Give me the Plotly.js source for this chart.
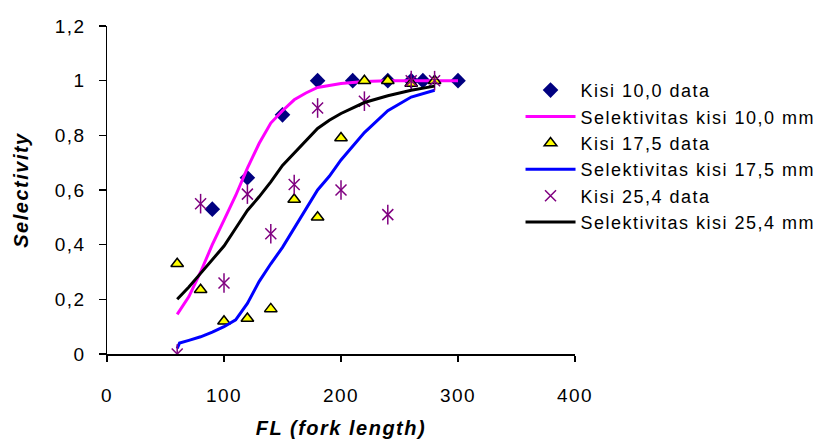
<!DOCTYPE html>
<html>
<head>
<meta charset="utf-8">
<script src="https://cdn.plot.ly/plotly-3.0.1.min.js"></script>
<style>
html,body{margin:0;padding:0;background:#fff;}
#chart{width:820px;height:439px;}
#chart text{letter-spacing:1.5px;}
#chart .legend .scrollbox{clip-path:none !important;}
</style>
</head>
<body>
<div id="chart"></div>
<script>
// Data
const x10 = [90, 120, 150, 180, 210, 240, 260, 270, 300];
const y10 = [0.53, 0.645, 0.875, 1.0, 1.0, 1.0, 1.0, 1.0, 1.0];

const x17 = [60, 80, 100, 120, 140, 160, 180, 200, 220, 240, 260, 280];
const y17 = [0.33, 0.235, 0.12, 0.13, 0.165, 0.565, 0.5, 0.79, 1.0, 1.0, 0.99, 1.0];

const x25 = [60, 80, 100, 120, 140, 160, 180, 200, 220, 240, 260, 280];
const y25 = [0.0, 0.55, 0.26, 0.585, 0.44, 0.62, 0.9, 0.6, 0.925, 0.51, 1.0, 1.0];

const curveX10 = [60, 70, 80, 90, 100, 110, 120, 130, 140, 150, 160, 170, 180, 200, 220, 240, 260, 280, 300];
const curveY10 = [0.145, 0.21, 0.30, 0.40, 0.49, 0.58, 0.68, 0.77, 0.845, 0.89, 0.93, 0.955, 0.975, 0.99, 0.997, 1.0, 1.0, 1.0, 1.0];

const curveX17 = [60, 62, 70, 80, 90, 100, 110, 120, 130, 140, 150, 160, 170, 180, 190, 200, 220, 240, 260, 280];
const curveY17 = [0.02, 0.04, 0.05, 0.063, 0.08, 0.10, 0.125, 0.185, 0.265, 0.33, 0.39, 0.46, 0.53, 0.60, 0.65, 0.71, 0.81, 0.89, 0.94, 0.965];

const curveX25 = [60, 70, 80, 90, 100, 110, 120, 130, 140, 150, 160, 170, 180, 190, 200, 220, 240, 260, 280];
const curveY25 = [0.20, 0.245, 0.295, 0.345, 0.395, 0.46, 0.525, 0.575, 0.63, 0.69, 0.735, 0.78, 0.825, 0.855, 0.88, 0.92, 0.945, 0.965, 0.98];

const xTickVals = [0, 100, 200, 300, 400];
const xTickText = ['0', '100', '200', '300', '400'];
const yTickVals = [0, 0.2, 0.4, 0.6, 0.8, 1, 1.2];
const yTickText = ['0', '0,2', '0,4', '0,6', '0,8', '1', '1,2'];

const names = ['Kisi 10,0 data', 'Selektivitas kisi 10,0 mm', 'Kisi 17,5 data',
               'Selektivitas kisi 17,5 mm', 'Kisi 25,4 data', 'Selektivitas kisi 25,4 mm'];

const traces = [
  {x: x10, y: y10, name: names[0], type: 'scatter', mode: 'markers',
   marker: {symbol: 'diamond', size: 12, color: '#000080'}},
  {x: curveX10, y: curveY10, name: names[1], type: 'scatter', mode: 'lines',
   line: {color: '#FF00FF', width: 3}},
  {x: x17, y: y17, name: names[2], type: 'scatter', mode: 'markers',
   marker: {symbol: 'triangle-up', size: 11, color: '#FFFF00', line: {color: '#000000', width: 1.5}}},
  {x: curveX17, y: curveY17, name: names[3], type: 'scatter', mode: 'lines',
   line: {color: '#0000FF', width: 3}},
  {x: x25, y: y25, name: names[4], type: 'scatter', mode: 'markers',
   marker: {symbol: 'x-thin-open', size: 11, color: '#800080', line: {color: '#800080', width: 1.5}}},
  {x: x25, y: y25, name: names[4], type: 'scatter', mode: 'markers', showlegend: false,
   marker: {symbol: 'line-ns-open', size: 14, color: '#800080', line: {color: '#800080', width: 1.5}}},
  {x: curveX25, y: curveY25, name: names[5], type: 'scatter', mode: 'lines',
   line: {color: '#000000', width: 3}}
];

const font = 'Arial, "Liberation Sans", sans-serif';

const layout = {
  width: 820, height: 439,
  margin: {l: 107, r: 245, t: 26, b: 85},
  paper_bgcolor: '#ffffff', plot_bgcolor: '#ffffff',
  font: {family: font, size: 19, color: '#000000'},
  showlegend: true,
  legend: {x: 0.8836, xanchor: 'left', y: 0.86, yanchor: 'top',
           font: {family: font, size: 18, color: '#000000'},
           itemwidth: 50, tracegroupgap: 0, bgcolor: 'rgba(0,0,0,0)'},
  xaxis: {range: [0, 400], tickvals: xTickVals, ticktext: xTickText,
          showgrid: false, zeroline: false, showline: true, linecolor: '#000', linewidth: 1.5,
          ticks: 'outside', ticklen: 6, tickcolor: '#000', tickwidth: 1.5,
          ticklabelstandoff: 18,
          tickfont: {family: font, size: 19, color: '#000'},
          title: {text: '<b><i>FL (fork length)</i></b>', font: {family: font, size: 20, color: '#000'}, standoff: 18}},
  yaxis: {range: [0, 1.2], tickvals: yTickVals, ticktext: yTickText,
          showgrid: false, zeroline: false, showline: true, linecolor: '#000', linewidth: 1.5,
          ticks: 'outside', ticklen: 7, tickcolor: '#000', tickwidth: 1.5,
          ticklabelstandoff: 9,
          tickfont: {family: font, size: 19, color: '#000'},
          title: {text: '<b><i>Selectivity</i></b>', font: {family: font, size: 20, color: '#000'}, standoff: 25}}
};

Plotly.newPlot('chart', traces, layout, {displayModeBar: false, staticPlot: true});
</script>
</body>
</html>
